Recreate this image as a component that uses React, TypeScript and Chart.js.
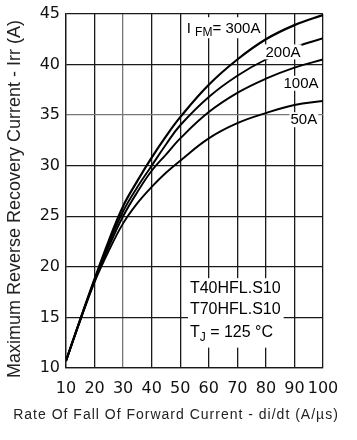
import React, { useEffect, useRef } from 'react';
import { Chart, registerables } from 'chart.js';
Chart.register(...registerables);

// ---- data ----
const diDt = [10, 15, 20, 25, 30, 35, 40, 45, 50, 60, 70, 80, 90, 100];
const irr300A = [10.7, 14.8, 18.8, 22.6, 26.0, 28.5, 30.8, 32.9, 34.8, 38.0, 40.5, 42.5, 43.9, 44.9];
const irr200A = [10.7, 14.8, 18.7, 22.3, 25.5, 27.9, 30.0, 32.1, 34.0, 36.8, 38.9, 40.5, 41.7, 42.6];
const irr100A = [10.7, 14.8, 18.6, 22.0, 25.0, 27.4, 29.5, 31.1, 32.7, 35.3, 37.2, 38.6, 39.7, 40.5];
const irr50A = [10.7, 14.7, 18.5, 21.6, 24.3, 26.3, 27.9, 29.3, 30.5, 32.7, 34.2, 35.2, 36.0, 36.4];
const seriesNames = ['300A', '200A', '100A', '50A'];
const seriesValues = [irr300A, irr200A, irr100A, irr50A];

const xMin = 10, xMax = 100, xStep = 10;
const yMin = 10, yMax = 45, yStep = 5;

const yTitle = 'Maximum Reverse Recovery Current - Irr (A)';
const xTitle = 'Rate Of Fall Of Forward Current - di/dt (A/\u00b5s)';
const deviceLines = ['T40HFL.S10', 'T70HFL.S10'];
const tjValue = '= 125 \u00b0C';

const TICK_FONT = '"DejaVu Sans", sans-serif';
const TEXT_FONT = '"Liberation Sans", Arial, sans-serif';

const overlay = {
  id: 'overlay',
  afterDatasetsDraw(chart: any) {
    const ctx = chart.ctx as CanvasRenderingContext2D;
    const xs = chart.scales.x;
    const ys = chart.scales.y;
    const px = (v: number) => xs.getPixelForValue(v);
    const py = (v: number) => ys.getPixelForValue(v);
    ctx.save();
    ctx.fillStyle = '#000';
    ctx.textBaseline = 'alphabetic';

    const box = (l: number, t: number, r: number, b: number) => {
      ctx.save();
      ctx.fillStyle = '#fff';
      ctx.fillRect(l, t, r - l, b - t);
      ctx.restore();
    };

    // I_FM = 300A label
    {
      const x0 = px(52.3), base = py(43.1);
      const big = '15px ' + TEXT_FONT, small = '12px ' + TEXT_FONT;
      ctx.font = big;
      const wI = ctx.measureText('I ').width;
      ctx.font = small;
      const wFM = ctx.measureText('FM').width;
      ctx.font = big;
      const wRest = ctx.measureText('= ' + seriesNames[0]).width;
      box(x0 - 3, base - 16, x0 + wI + wFM + wRest + 2, base + 5);
      ctx.fillStyle = '#000';
      ctx.fillText('I ', x0, base);
      ctx.font = small;
      ctx.fillText('FM', x0 + wI, base + 3);
      ctx.font = big;
      ctx.fillText('= ' + seriesNames[0], x0 + wI + wFM, base);
    }

    // series labels
    const labelPos: [number, number][] = [[86.0, 41.2], [92.3, 38.1], [93.3, 34.5]];
    ctx.font = '15px ' + TEXT_FONT;
    labelPos.forEach(([vx, vy], i) => {
      const t = seriesNames[i + 1];
      const w = ctx.measureText(t).width;
      const cx = px(vx), cy = py(vy);
      box(cx - w / 2 - 1, cy - 8, cx + w / 2 + 1, cy + 7);
      ctx.fillStyle = '#000';
      ctx.textAlign = 'center';
      ctx.textBaseline = 'middle';
      ctx.fillText(t, cx, cy);
    });
    ctx.textAlign = 'left';
    ctx.textBaseline = 'alphabetic';

    // device text block
    {
      const x0 = px(53.4);
      const bases = [py(17.4), py(15.3), py(13.1)];
      const f = '16px ' + TEXT_FONT;
      ctx.font = f;
      const w = Math.max(...deviceLines.map((s) => ctx.measureText(s).width));
      box(x0 - 2, bases[0] - 15, x0 + w + 3, bases[2] + 11);
      ctx.fillStyle = '#000';
      deviceLines.forEach((s, i) => ctx.fillText(s, x0, bases[i]));
      const wT = ctx.measureText('T').width;
      ctx.fillText('T', x0, bases[2]);
      ctx.font = '12px ' + TEXT_FONT;
      ctx.fillText('J', x0 + wT, bases[2] + 4);
      const wJ = ctx.measureText('J').width;
      ctx.font = f;
      ctx.fillText(' ' + tjValue, x0 + wT + wJ, bases[2]);
    }
    ctx.restore();
  },
  afterDraw(chart: any) {
    const ctx = chart.ctx as CanvasRenderingContext2D;
    ctx.save();
    ctx.fillStyle = '#222';
    // y title
    ctx.font = '18px ' + TEXT_FONT;
    ctx.translate(15, 199);
    ctx.rotate(-Math.PI / 2);
    ctx.textAlign = 'center';
    ctx.textBaseline = 'middle';
    ctx.fillText(yTitle, 0, 0);
    ctx.restore();
    ctx.save();
    ctx.fillStyle = '#222';
    ctx.font = '14px ' + TEXT_FONT;
    (ctx as any).letterSpacing = '1px';
    ctx.textAlign = 'center';
    ctx.textBaseline = 'middle';
    ctx.fillText(xTitle, 176, 415);
    ctx.restore();
  },
};

export default function App() {
  const ref = useRef<HTMLCanvasElement | null>(null);
  useEffect(() => {
    if (!ref.current) return;
    const chart = new Chart(ref.current, {
      type: 'line',
      data: {
        datasets: seriesValues.map((vals, i) => ({
          label: seriesNames[i],
          data: diDt.map((x, j) => ({ x, y: vals[j] })),
          borderColor: '#000',
          borderWidth: i === 0 ? 2.2 : 1.9,
          pointRadius: 0,
          fill: false,
          tension: 0.4,
        })),
      },
      options: {
        responsive: false,
        animation: false,
        layout: { padding: { left: 0, right: 34, top: 10, bottom: 0 } },
        plugins: { legend: { display: false }, tooltip: { enabled: false }, title: { display: false } },
        scales: {
          x: {
            type: 'linear',
            min: xMin,
            max: xMax,
            ticks: {
              stepSize: xStep,
              autoSkip: false,
              color: '#111',
              font: { family: TICK_FONT, size: 16 },
              padding: 11,
              maxRotation: 0,
            },
            grid: {
              color: (c: any) => (c.tick && c.tick.value === 30 ? '#777' : '#1a1a1a'),
              lineWidth: 1.3,
              drawTicks: false,
            },
            border: { display: true, color: '#1a1a1a', width: 1.3 },
            afterFit: (s: any) => { s.height = 72; },
          },
          y: {
            type: 'linear',
            min: yMin,
            max: yMax,
            ticks: {
              stepSize: yStep,
              color: '#111',
              font: { family: TICK_FONT, size: 16, lineHeight: 1 },
              padding: 6,
            },
            grid: {
              color: (c: any) => (c.tick && c.tick.value === 35 ? '#777' : '#1a1a1a'),
              lineWidth: 1.3,
              drawTicks: false,
            },
            border: { display: true, color: '#1a1a1a', width: 1.3 },
            afterFit: (s: any) => { s.width = 66; },
          },
        },
      },
      plugins: [overlay],
    });
    return () => chart.destroy();
  }, []);
  return (
    <div style={{ position: 'fixed', left: 0, top: 0, width: 357, height: 440, background: '#fff' }}>
      <canvas ref={ref} width={357} height={440} />
    </div>
  );
}
